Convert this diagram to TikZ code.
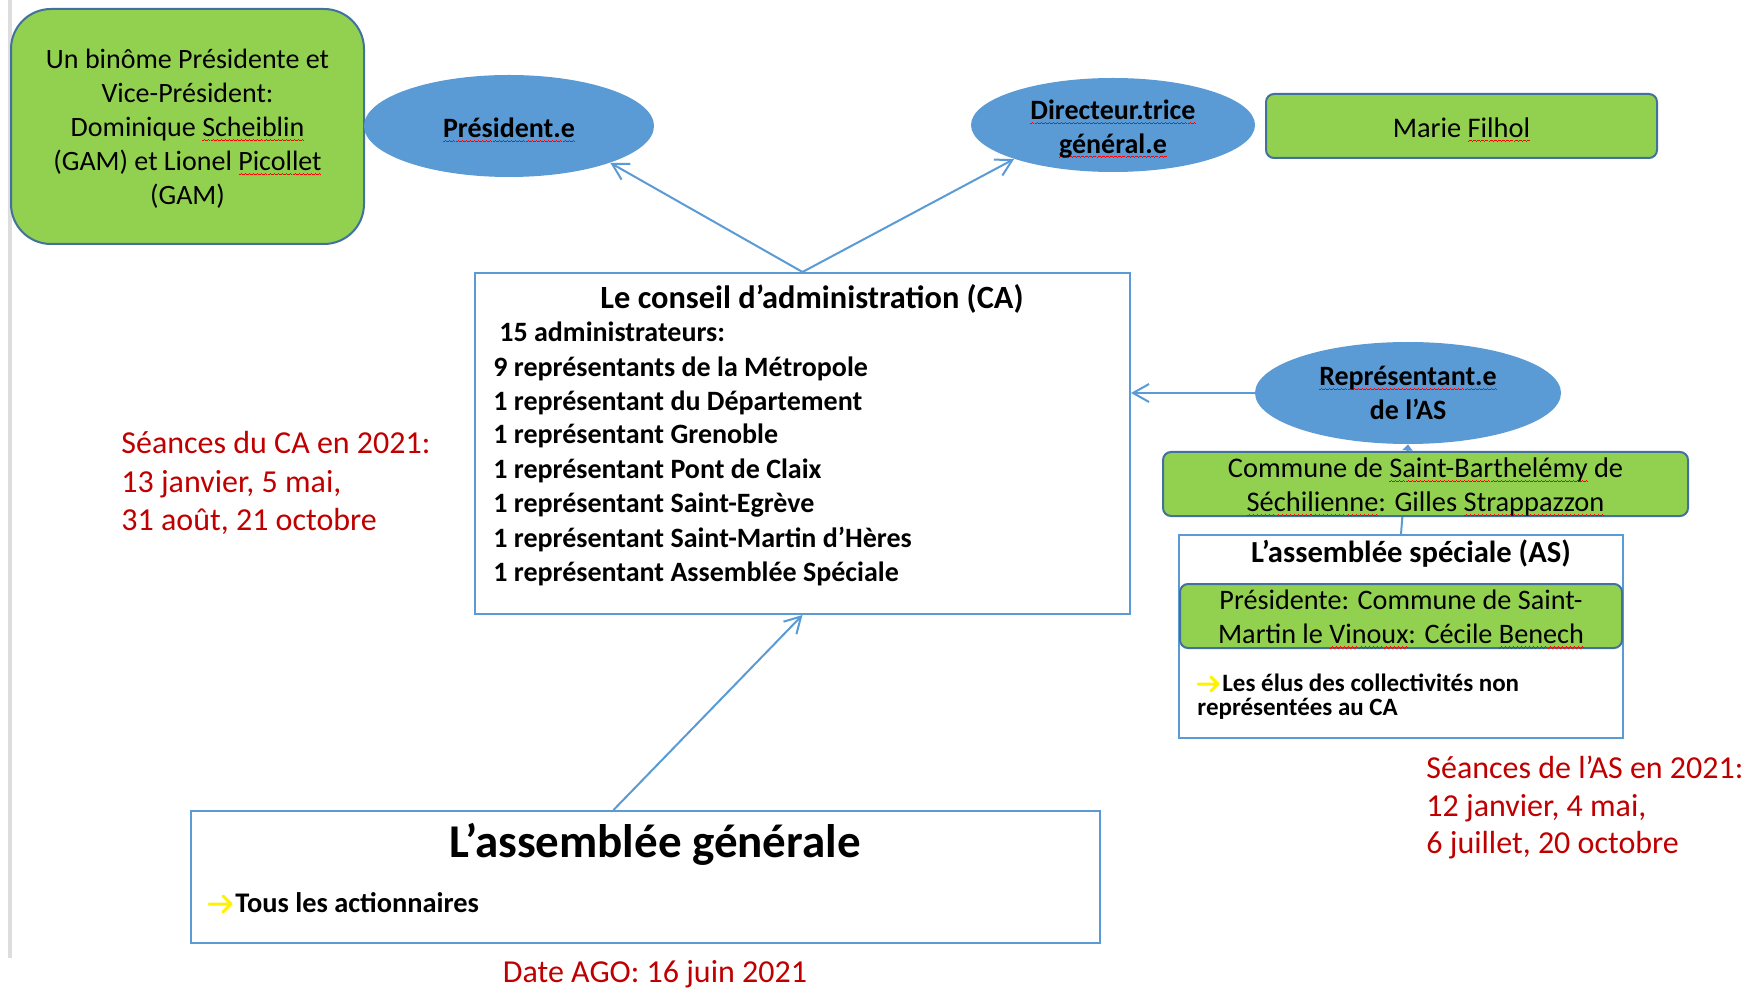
\documentclass[tikz,border=0pt]{standalone}
\usepackage{fontspec}
\setmainfont{Carlito}
\usetikzlibrary{arrows.meta,shapes.geometric}
\definecolor{grn}{HTML}{92D050}
\definecolor{grnb}{HTML}{41719C}
\definecolor{blu}{HTML}{5B9BD5}
\definecolor{rd}{HTML}{C00000}
\definecolor{yel}{HTML}{FFF200}
\definecolor{edge}{HTML}{DDDDDD}
\newcommand\wavebit{\hbox{\rule{0.5pt}{0.35pt}\rule[0.3pt]{0.5pt}{0.35pt}\rule[0.6pt]{0.5pt}{0.35pt}\rule[0.3pt]{0.5pt}{0.35pt}}}
\newcommand\sq[1]{\leavevmode\setbox0\hbox{#1}\rlap{\lower2.2pt\hbox to\wd0{\color{red}\xleaders\wavebit\hfill}}\box0\relax}
\newcommand\dn[2][2pt]{\raisebox{-#1}[\height][\depth]{#2}}
\tikzset{
  greenbox/.style={draw=grnb, fill=grn, line width=1pt, rounded corners=4pt, inner sep=0pt, align=center, font=\fontsize{14.2}{17}\selectfont},
  bluell/.style={ellipse, fill=blu, inner sep=0pt, align=center, font=\bfseries\fontsize{14}{16.8}\selectfont},
  framebox/.style={draw=blu, line width=1pt, inner sep=0pt},
  link/.style={draw=blu, line width=1pt, -{Straight Barb[length=8pt,width=9pt]}},
  yarr/.style={draw=yel, line width=1.5pt, line cap=round, line join=round},
  redtxt/.style={text=rd, font=\fontsize{16}{19}\selectfont, inner sep=0pt, anchor=base west},
  caline/.style={font=\bfseries\fontsize{14}{17}\selectfont, inner sep=0pt, anchor=base west},
}
\begin{document}
\begin{tikzpicture}[x=0.5pt,y=-0.5pt]
\useasboundingbox (0,0) rectangle (1754,988);
\fill[white] (0,0) rectangle (1754,988);
\draw[edge, line width=2pt] (9.5,0) -- (9.5,958);

% top row
\node[greenbox, rounded corners=20pt, minimum width=176.5pt, minimum height=117.5pt, font=\fontsize{14}{17}\selectfont] (binome) at (187.5,126.5)
  {\dn[1.1pt]{Un binôme Présidente et}\\\dn[1.1pt]{Vice-Président:}\\\dn[1.1pt]{Dominique \sq{Scheiblin}}\\\dn[1.1pt]{(GAM) et Lionel \sq{Picollet}}\\\dn[1.1pt]{(GAM)}};
\node[bluell, minimum width=145pt, minimum height=51pt] (pres) at (509,126) {\dn{\sq{Président.e}}};
\node[bluell, minimum width=142pt, minimum height=47pt] (dir) at (1113,125) {\dn{\sq{Directeur.trice}}\\\dn{\sq{général.e}}};
\node[greenbox, minimum width=195.5pt, minimum height=32pt] (marie) at (1461.5,126) {\dn[1.7pt]{Marie \sq{Filhol}}};

% conseil d'administration
\node[framebox, minimum width=327.5pt, minimum height=170.5pt] (ca) at (802.5,443.5) {};
\node[font=\bfseries\fontsize{16.2}{19}\selectfont, inner sep=0pt, anchor=base] (catitle) at (812,309) {Le conseil d’administration (CA)};
\node[caline] (ca0) at (499,342) {15 administrateurs:};
\node[caline] (ca1) at (493,377) {9 représentants de la Métropole};
\node[caline] (ca2) at (493,411) {1 représentant du Département};
\node[caline] (ca3) at (493,444) {1 représentant Grenoble};
\node[caline] (ca4) at (493,479) {1 représentant Pont de Claix};
\node[caline] (ca5) at (493,512) {1 représentant Saint-Egrève};
\node[caline] (ca6) at (493,547) {1 représentant Saint-Martin d’Hères};
\node[caline] (ca7) at (493,581) {1 représentant Assemblée Spéciale};

\draw[link] (ca.north) -- (pres.-20);
\draw[link] (ca.north) -- (dir.-161);

% assemblée spéciale side
\node[bluell, minimum width=153pt, minimum height=51pt] (repas) at (1408,393) {\sq{Représentant.e}\\de l’AS};
\draw[link] (repas.west) -- (repas.west -| ca.east);

\node[framebox, minimum width=222pt, minimum height=101.5pt] (as) at (1401,636.5) {};
\draw[draw=blu, line width=1pt, -{Triangle[length=3pt,width=5pt]}] (as.north) -- (repas.south);
\node[greenbox, minimum width=262.5pt, minimum height=32pt] (commune) at (1425.5,484)
  {\dn[1.5pt]{Commune de \sq{Saint-Barthelémy} de}\\\dn[1.5pt]{\sq{Séchilienne}: Gilles \sq{Strappazzon}}};
\node[font=\bfseries\fontsize{15.3}{18}\selectfont, inner sep=0pt, anchor=base] (astitle) at (1411,562) {L’assemblée spéciale (AS)};
\node[greenbox, minimum width=221pt, minimum height=32pt, font=\fontsize{14.1}{17}\selectfont] (presas) at (1401,616)
  {\dn[1.7pt]{Présidente: Commune de Saint-}\\\dn[1.7pt]{Martin le \sq{Vinoux}: Cécile \sq{Benech}}};
\node[font=\bfseries\fontsize{12.5}{12}\selectfont, inner sep=0pt, anchor=base west] (elus1) at (1222,691) {Les élus des collectivités non};
\node[font=\bfseries\fontsize{12.5}{12}\selectfont, inner sep=0pt, anchor=base west] (elus2) at (1197,715) {représentées au CA};
\draw[yarr] ([shift={(-24,-7)}]elus1.base west) -- ([shift={(-4,-7)}]elus1.base west)
  ([shift={(-11,-14)}]elus1.base west) -- ([shift={(-4,-7)}]elus1.base west) -- ([shift={(-11,0)}]elus1.base west);

% assemblée générale
\node[framebox, minimum width=454.5pt, minimum height=66pt] (ag) at (645.5,877) {};
\node[font=\bfseries\fontsize{23.5}{28}\selectfont, inner sep=0pt, anchor=base] (agtitle) at (655,857) {L’assemblée générale};
\node[font=\bfseries\fontsize{14.2}{17}\selectfont, inner sep=0pt, anchor=base west] (tous) at (235,912) {Tous les actionnaires};
\draw[yarr] ([shift={(-26,-8)}]tous.base west) -- ([shift={(-4,-8)}]tous.base west)
  ([shift={(-12,-16)}]tous.base west) -- ([shift={(-4,-8)}]tous.base west) -- ([shift={(-12,0)}]tous.base west);
\draw[link] ([xshift=-16pt]ag.north) -- (ca.south);

% red notes
\node[text=rd, font=\fontsize{16}{19}\selectfont, inner sep=0pt, anchor=base] (date) at (655,982) {Date AGO: 16 juin 2021};
\node[redtxt] (sca1) at (121,453) {Séances du CA en 2021:};
\node[redtxt] (sca2) at (121,492) {13 janvier, 5 mai,};
\node[redtxt] (sca3) at (121,530) {31 août, 21 octobre};
\node[redtxt] (sas1) at (1426,778) {Séances de l’AS en 2021:};
\node[redtxt] (sas2) at (1426,816) {12 janvier, 4 mai,};
\node[redtxt] (sas3) at (1426,853) {6 juillet, 20 octobre};
\end{tikzpicture}
\end{document}
